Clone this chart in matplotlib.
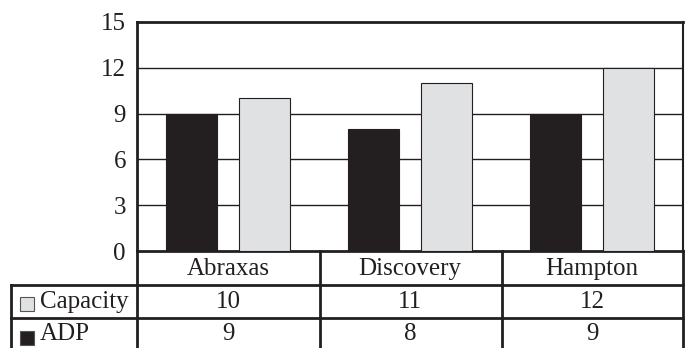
import matplotlib
matplotlib.use("Agg")
import matplotlib.pyplot as plt
from matplotlib.patches import Rectangle
from matplotlib.transforms import blended_transform_factory
import numpy as np

categories = ["Abraxas", "Discovery", "Hampton"]
capacity = [10, 11, 12]
adp = [9, 8, 9]
series_names = ["Capacity", "ADP"]
yticks = [0, 3, 6, 9, 12, 15]

W, H = 689, 348
fig = plt.figure(figsize=(W / 100, H / 100), dpi=100)
FONT = "Liberation Serif"
FS = 18
dark = "#231f20"
light = "#e0e1e3"

L, R, T, B = 137, 683, 22, 251
ax = fig.add_axes([L / W, 1 - B / H, (R - L) / W, (B - T) / H])
x = np.arange(len(categories))
bw = 0.284
ax.bar(x - 0.2, adp, width=bw, color=dark, edgecolor=dark, linewidth=0.8, zorder=3)
ax.bar(x + 0.2, capacity, width=bw, color=light, edgecolor=dark, linewidth=0.8, zorder=3)
ax.set_xlim(-0.5, 2.5)
ax.set_ylim(0, 15)
ax.set_yticks(yticks)
ax.set_yticklabels([str(v) for v in yticks], fontfamily=FONT, fontsize=FS, color=dark)
ax.tick_params(axis="y", length=0, pad=8)
ax.set_xticks([])
for yv in yticks[1:-1]:
    ax.axhline(yv, color=dark, linewidth=1.0, zorder=1)
for s in ax.spines.values():
    s.set_color(dark)
    s.set_linewidth(2.0)
ax.spines["right"].set_linewidth(1.5)


def fy(py):
    return 1 - py / H


def fx(px):
    return px / W


col_x = [137, 320, 502, 683]
lw = 2.0
fig.add_artist(plt.Line2D([fx(11), fx(683)], [fy(285), fy(285)], color=dark, lw=lw))
fig.add_artist(plt.Line2D([fx(11), fx(683)], [fy(318), fy(318)], color=dark, lw=lw))
fig.add_artist(plt.Line2D([fx(11), fx(11)], [fy(285), fy(348)], color=dark, lw=lw))
for cx in col_x:
    fig.add_artist(plt.Line2D([fx(cx), fx(cx)], [fy(251), fy(348)], color=dark, lw=lw))

trans = blended_transform_factory(ax.transData, fig.transFigure)
for i, cat in enumerate(categories):
    ax.text(x[i], fy(269), cat, transform=trans, ha="center", va="center",
            fontfamily=FONT, fontsize=FS, color=dark)
    ax.text(x[i], fy(302), str(capacity[i]), transform=trans, ha="center", va="center",
            fontfamily=FONT, fontsize=FS, color=dark)
    ax.text(x[i], fy(334), str(adp[i]), transform=trans, ha="center", va="center",
            fontfamily=FONT, fontsize=FS, color=dark)

for name, ycen, sq, fc in [(series_names[0], 302, 304, light), (series_names[1], 334, 338, dark)]:
    fig.add_artist(Rectangle((fx(20), fy(sq + 7)), 14 / W, 14 / H,
                             facecolor=fc, edgecolor="#555555", linewidth=0.8,
                             transform=fig.transFigure))
    fig.text(fx(40), fy(ycen), name, ha="left", va="center",
             fontfamily=FONT, fontsize=FS, color=dark)

fig.savefig("out.png", dpi=100)
